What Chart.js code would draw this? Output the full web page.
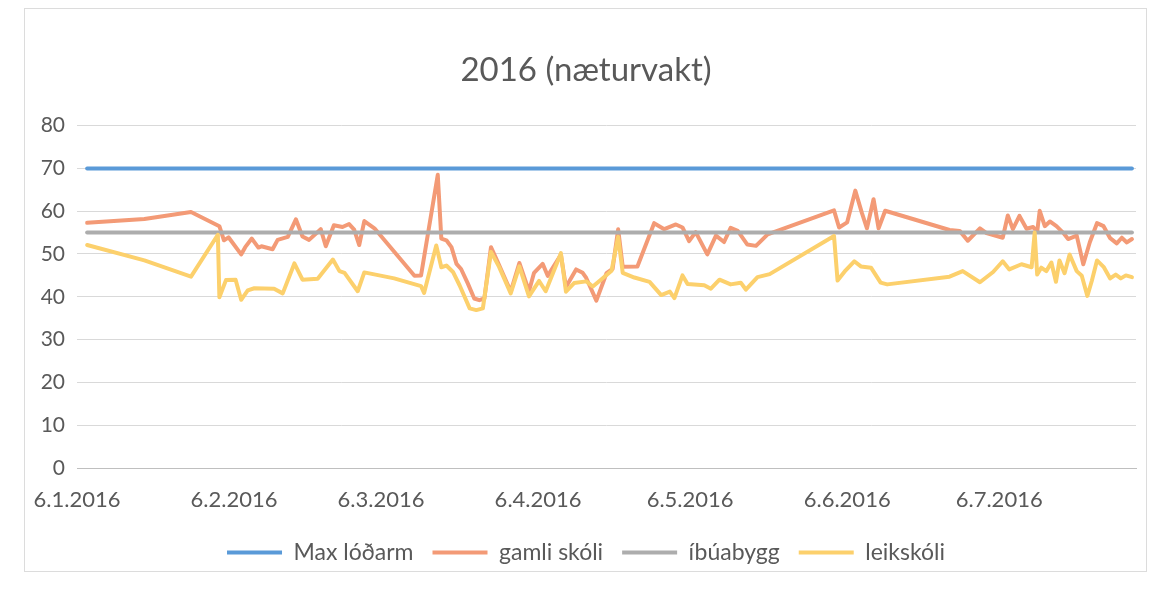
<!DOCTYPE html>
<html>
<head>
<meta charset="utf-8">
<script src="https://cdn.jsdelivr.net/npm/chart.js@4.4.1/dist/chart.umd.min.js"></script>
<style>
  html, body { margin: 0; padding: 0; background: #ffffff; }
  canvas { display: block; }
</style>
</head>
<body>
<canvas id="c" width="1152" height="600"></canvas>
<script>
// Tick positions: days since 6.1.2016, and their labels
const tickDays = [0, 31, 60, 91, 121, 152, 182];
const tickLabels = ['6.1.2016', '6.2.2016', '6.3.2016', '6.4.2016', '6.5.2016', '6.6.2016', '6.7.2016'];

// Max lóðarm (limit line)
const maxDays = [2, 208.2];
const maxValues = [70, 70];

// íbúabygg
const ibuDays = [2, 208.2];
const ibuValues = [55, 55];

// gamli skóli (days since 6.1.2016, values)
const gamliDays = [2, 13.3, 22.5, 28.1, 29.0, 29.9, 32.4, 33.2, 34.5, 35.8, 36.4, 38.6, 39.6, 41.6, 43.2, 44.5, 45.8, 48.1, 49.1, 50.7, 52.4, 53.7, 54.7, 55.7, 56.7, 58.7, 66.6, 67.9, 69.3, 71.2, 71.9, 72.9, 73.9, 74.9, 75.8, 77.1, 78.4, 79.4, 80.4, 81.7, 83.3, 85.6, 87.3, 89.2, 90.2, 91.9, 92.9, 95.5, 96.5, 98.5, 99.8, 100.5, 102.5, 104.5, 105.7, 106.8, 107.7, 110.6, 113.9, 115.9, 118.2, 119.5, 120.8, 122.1, 124.4, 126.1, 127.7, 129.0, 130.4, 132.3, 134.0, 136.3, 149.4, 150.4, 152.0, 153.6, 154.9, 155.9, 157.2, 158.2, 159.5, 172.2, 174.2, 175.8, 178.2, 179.5, 182.7, 183.7, 184.7, 186.0, 187.4, 188.7, 189.5, 190.0, 191.0, 192.0, 193.3, 194.6, 195.6, 197.3, 198.6, 199.9, 201.3, 202.6, 203.9, 205.2, 206.2, 207.2, 208.2];
const gamliValues = [57.3, 58.2, 59.8, 56.5, 53.2, 53.9, 49.9, 51.6, 53.6, 51.5, 51.8, 51.1, 53.3, 54.0, 58.1, 54.1, 53.3, 55.8, 51.8, 56.7, 56.3, 57.0, 55.7, 52.1, 57.7, 56.0, 44.9, 45.0, 55.0, 68.5, 53.6, 53.2, 51.6, 47.7, 46.5, 43.2, 39.6, 39.2, 39.6, 51.6, 47.4, 41.2, 47.9, 41.3, 45.6, 47.7, 44.9, 49.8, 42.3, 46.4, 45.6, 44.4, 39.1, 45.5, 46.5, 55.8, 47.0, 47.1, 57.2, 55.8, 56.9, 56.2, 53.0, 55.1, 49.9, 54.3, 52.8, 56.1, 55.4, 52.2, 51.9, 54.6, 60.2, 56.2, 57.4, 64.8, 59.6, 56.0, 62.8, 56.0, 60.1, 55.6, 55.4, 53.1, 56.0, 54.9, 53.8, 59.0, 55.8, 58.9, 55.9, 56.3, 55.2, 60.1, 56.5, 57.6, 56.5, 55.0, 53.5, 54.3, 47.6, 52.8, 57.2, 56.5, 53.7, 52.5, 53.8, 52.7, 53.5];

// leikskóli (days since 6.1.2016, values)
const leikDays = [2, 13.3, 22.5, 27.8, 28.1, 29.4, 31.3, 32.4, 33.7, 35.0, 38.9, 40.6, 42.9, 44.5, 47.5, 50.5, 51.8, 52.8, 55.4, 56.7, 62.6, 67.9, 68.5, 70.9, 71.9, 72.9, 74.2, 75.5, 77.5, 78.8, 80.1, 81.7, 83.3, 85.6, 87.3, 89.2, 91.2, 92.5, 95.5, 96.5, 98.1, 100.5, 101.8, 103.4, 105.5, 106.8, 107.7, 110.0, 113.0, 115.3, 117.0, 117.9, 119.5, 120.5, 123.8, 125.1, 126.8, 129.0, 131.0, 132.0, 134.3, 136.7, 149.4, 150.1, 151.7, 153.4, 154.7, 156.7, 158.6, 159.9, 172.2, 174.8, 178.2, 180.8, 182.7, 184.0, 186.4, 188.4, 189.0, 189.5, 190.3, 191.3, 192.3, 193.2, 193.9, 194.9, 195.9, 197.3, 198.3, 199.4, 200.3, 201.3, 202.6, 203.9, 205.0, 206.0, 207.0, 208.2];
const leikValues = [52.1, 48.5, 44.7, 54.5, 39.9, 43.9, 44.0, 39.3, 41.5, 42.0, 41.9, 40.8, 47.8, 44.0, 44.2, 48.7, 46.0, 45.6, 41.3, 45.7, 44.3, 42.5, 40.9, 52.0, 46.9, 47.3, 45.8, 42.7, 37.3, 36.9, 37.3, 50.5, 47.0, 40.8, 47.1, 40.1, 43.7, 41.3, 50.2, 41.2, 43.2, 43.6, 42.4, 44.0, 46.1, 54.0, 45.6, 44.5, 43.5, 40.4, 41.2, 39.7, 45.0, 43.0, 42.7, 41.9, 44.0, 42.9, 43.3, 41.7, 44.6, 45.3, 54.2, 43.8, 46.2, 48.3, 47.1, 46.8, 43.3, 42.9, 44.7, 46.0, 43.4, 45.8, 48.3, 46.4, 47.6, 46.9, 55.0, 45.2, 46.8, 46.0, 48.0, 43.5, 48.5, 45.5, 49.9, 46.0, 44.9, 40.2, 43.8, 48.5, 47.0, 44.3, 45.2, 44.3, 45.0, 44.6];

const seriesNames = ['Max lóðarm', 'gamli skóli', 'íbúabygg', 'leikskóli'];
const seriesColors = ['#5A9AD8', '#F39A76', '#ADADAD', '#FCD06C'];

function pts(days, vals) { return days.map((d, i) => ({ x: d, y: vals[i] })); }

const FONT = 'Lato, "Open Sans", sans-serif';
const TXT = '#595959';

const bgPlugin = {
  id: 'bg',
  beforeDraw(chart) {
    const c = chart.ctx;
    c.save();
    c.fillStyle = '#ffffff';
    c.fillRect(0, 0, chart.width, chart.height);
    c.strokeStyle = '#dcdcdc';
    c.lineWidth = 1;
    c.strokeRect(24.5, 8.5, 1122, 563);
    c.restore();
  }
};

function ds(i, days, vals, order) {
  return {
    label: seriesNames[i],
    data: pts(days, vals),
    borderColor: seriesColors[i],
    backgroundColor: seriesColors[i],
    borderWidth: 4,
    pointRadius: 0,
    pointHoverRadius: 0,
    tension: 0,
    borderJoinStyle: 'round',
    borderCapStyle: 'round',
    order: order
  };
}

new Chart(document.getElementById('c'), {
  type: 'line',
  data: {
    datasets: [
      ds(0, maxDays, maxValues, 4),
      ds(1, gamliDays, gamliValues, 3),
      ds(2, ibuDays, ibuValues, 2),
      ds(3, leikDays, leikValues, 1)
    ]
  },
  options: {
    responsive: false,
    devicePixelRatio: 1,
    animation: false,
    layout: { padding: { left: 36, right: 16, top: 41, bottom: 26 } },
    plugins: {
      title: {
        display: true,
        text: '2016 (næturvakt)',
        color: TXT,
        font: { family: FONT, size: 33, weight: 'normal' },
        padding: { top: 10, bottom: 35 }
      },
      legend: {
        position: 'bottom',
        labels: {
          color: TXT,
          font: { family: FONT, size: 23 },
          boxWidth: 55,
          boxHeight: 4,
          padding: 19,
          sort: (a, b) => a.datasetIndex - b.datasetIndex,
          generateLabels: (chart) => {
            const items = Chart.defaults.plugins.legend.labels.generateLabels(chart);
            items.forEach(it => { it.lineWidth = 0; it.fillStyle = seriesColors[it.datasetIndex]; });
            return items;
          }
        }
      },
      tooltip: { enabled: false }
    },
    scales: {
      x: {
        type: 'linear',
        min: 0,
        max: 209,
        afterBuildTicks: (scale) => { scale.ticks = tickDays.map(v => ({ value: v })); },
        afterFit: (scale) => { scale.height = 54; },
        grid: { display: false, drawTicks: false },
        border: { display: true, color: '#BFBFBF', width: 1 },
        ticks: {
          autoSkip: false,
          maxRotation: 0,
          padding: 19,
          color: TXT,
          font: { family: FONT, size: 22 },
          callback: (v, i) => tickLabels[i]
        }
      },
      y: {
        min: 0,
        max: 80,
        afterFit: (scale) => { scale.width = 41; },
        grid: { color: '#D9D9D9', drawTicks: false },
        border: { display: false },
        ticks: {
          stepSize: 10,
          padding: 12,
          color: TXT,
          font: { family: FONT, size: 21 }
        }
      }
    }
  },
  plugins: [bgPlugin]
});
</script>
</body>
</html>
